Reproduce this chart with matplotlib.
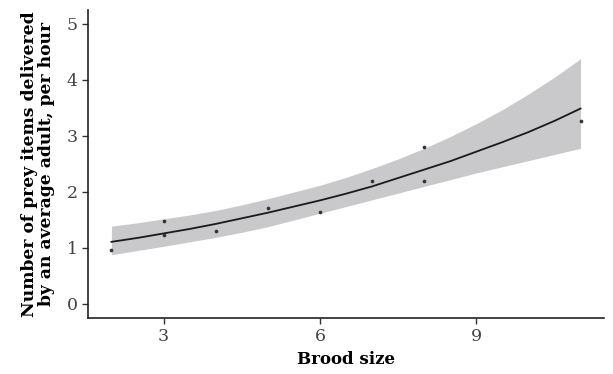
import numpy as np
import matplotlib
matplotlib.use("Agg")
import matplotlib.pyplot as plt

# observed data points
brood = [2, 3, 3, 4, 5, 6, 7, 8, 8, 11]
prey = [0.97, 1.48, 1.23, 1.31, 1.71, 1.64, 2.19, 2.81, 2.20, 3.27]

# fitted curve and confidence band
fit_x = [2, 2.5, 3, 3.5, 4, 4.5, 5, 5.5, 6, 6.5, 7, 7.5, 8, 8.5, 9, 9.5, 10, 10.5, 11]
fit_y = [1.11, 1.18, 1.26, 1.34, 1.43, 1.53, 1.63, 1.74, 1.85, 1.97, 2.10,
         2.25, 2.40, 2.55, 2.72, 2.89, 3.07, 3.27, 3.49]
fit_lo = [0.88, 0.955, 1.03, 1.11, 1.19, 1.28, 1.38, 1.50, 1.62, 1.74, 1.86,
          1.98, 2.10, 2.22, 2.34, 2.45, 2.56, 2.67, 2.78]
fit_hi = [1.39, 1.45, 1.52, 1.59, 1.67, 1.77, 1.88, 2.00, 2.12, 2.26, 2.42,
          2.59, 2.78, 2.99, 3.22, 3.47, 3.75, 4.05, 4.38]

xticks = [3, 6, 9]
yticks = [0, 1, 2, 3, 4, 5]

plt.rcParams['font.family'] = ['DejaVu Serif']

fig = plt.figure(figsize=(6.13, 3.74), dpi=100)
ax = fig.add_axes([88/613, 1-318/374, (604-88)/613, (318-10)/374])

ax.fill_between(fit_x, fit_lo, fit_hi, color='#c9c9cb', lw=0, zorder=1)
ax.plot(fit_x, fit_y, color='#1a1a1a', lw=1.3, zorder=2)
ax.scatter(brood, prey, s=7, color='#333333', zorder=3, lw=0)

ax.set_xlim(1.55, 11.45)
ax.set_ylim(-0.25, 5.25)
ax.set_xticks(xticks)
ax.set_yticks(yticks)
ax.tick_params(labelsize=12.5, colors='#333333', length=4, width=1)
ax.tick_params(labelcolor='#444444')
for s in ['top', 'right']:
    ax.spines[s].set_visible(False)
for s in ['left', 'bottom']:
    ax.spines[s].set_linewidth(1.2)
    ax.spines[s].set_color('#222222')

ax.set_xlabel('Brood size', fontsize=12, fontweight='bold', labelpad=4)
ax.set_ylabel('Number of prey items delivered\nby an average adult, per hour',
              fontsize=12.3, fontweight='bold', labelpad=8, linespacing=1.05)

fig.savefig('out.png', dpi=100)
